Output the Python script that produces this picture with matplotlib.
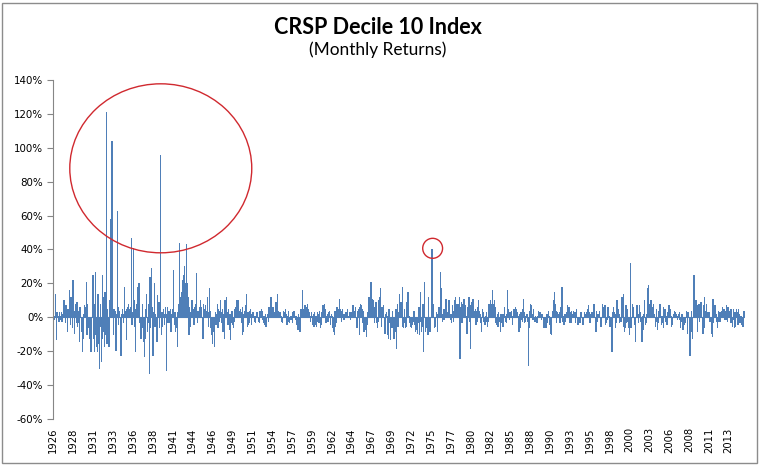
import numpy as np
import matplotlib
matplotlib.use("Agg")
import matplotlib.pyplot as plt
from matplotlib.patches import Ellipse, Rectangle
from matplotlib.ticker import FuncFormatter, MultipleLocator

# Monthly returns (%) of CRSP Decile 10, Jan 1926 - Dec 2015, one row per year
r1920s = [
    [2, -1, 1, 14, -13, 3, 2, 1, -2, 3, 1, -1],
    [3, -2, 2, 1, 10, 4, -3, 7, 2, -8, 5, 3],
    [3, 16, -4, 12, 2, -6, 22, 5, -9, 4, 8, -3],
    [9, -5, -3, 4, -14, 6, 3, -2, -8, -20, -12, 2],
]
r1930s = [
    [7, 4, 6, 21, -10, 8, -6, -4, -12, -8, -20, -5],
    [10, 25, -12, -20, 8, 27, -10, -17, -20, 14, -15, -30],
    [-5, 8, -26, -12, 25, -8, 12, -17, 15, -10, 121, -15],
    [5, -15, -17, 10, 6, 58, 15, 104, 37, -10, 5, 3],
    [4, -19, 2, 63, 6, -4, 3, 4, -6, -22, 2, 5],
    [2, -3, 18, 4, 3, -13, 5, 3, 6, 8, 5, 4],
    [6, 47, -4, 3, 41, 10, -5, -20, 5, 8, 3, 18],
    [6, 20, -3, -10, -12, -8, 8, -6, -14, -5, -23, -12],
    [5, 14, -8, -3, 8, -33, 24, -6, 29, 6, -12, -22],
    [3, 20, -5, 2, -7, -14, 13, 4, 9, -6, 3, 96],
]
r1940s = [
    [-10, 3, -5, 5, 2, -4, 6, 2, -31, 6, -3, 4],
    [4, -3, 5, -8, 2, 3, 5, 28, -4, 3, -8, -5],
    [-6, -17, 3, 8, 44, 5, 12, 10, 15, 22, 18, 25],
    [30, 13, 20, 43, 20, 8, 12, -10, 6, -5, 3, 10],
    [10, 3, 5, -4, 6, 2, 8, 26, -3, 4, 2, 6],
    [4, 10, 6, 3, -4, -12, 8, 5, 3, 7, 4, 2],
    [12, -5, 3, 17, 4, -6, -4, -10, -15, -8, -6, -17],
    [3, -4, 2, 8, -6, 5, 4, -2, 10, 3, -3, 5],
    [-8, 2, -12, 10, 8, 6, 12, 3, -4, 5, -7, 2],
    [-13, -3, 4, -4, -6, -2, 5, 3, 6, 5, 10, 8],
]
r1950s = [
    [10, 4, 2, 5, 3, -3, -10, 6, -8, 2, 4, 7],
    [3, 14, -5, 3, -4, -3, 4, 5, 2, -4, 1, 3],
    [3, -2, 1, -3, 2, 3, 1, -1, -2, -3, 4, 2],
    [5, 4, -1, -3, 1, -4, 2, -5, -4, 2, 1, -2],
    [6, 2, 3, 12, 4, 1, 6, 2, 3, 1, 7, 9],
    [5, 14, 2, 4, 1, 3, 2, 1, -2, -3, 4, 2],
    [2, 3, 5, 2, -4, 1, 4, -2, -3, 1, -1, 1],
    [3, -3, 2, 4, 1, -1, 1, -4, -5, -7, 2, -4],
    [-8, 3, 5, 4, 16, 3, 5, 6, 7, 4, 5, 6],
    [8, 5, 2, 3, 1, -2, 3, 1, -4, 2, -5, 3],
]
r1960s = [
    [-4, 1, -5, -2, 3, 2, -3, 4, -6, -4, 3, 2],
    [7, 5, 8, 5, 3, -3, 1, 2, -2, 3, 4, 1],
    [-4, 2, 1, -6, -8, -7, -10, 4, -5, -3, 6, 3],
    [5, 3, 11, 5, 4, -2, 1, 5, -1, 2, -1, 1],
    [3, 2, 5, 1, 1, 2, 3, -1, 3, 2, 1, 7],
    [5, 4, 3, 6, -2, -6, 4, 5, 4, -10, 6, 8],
    [7, 5, -3, 4, -8, -2, -1, -7, -11, -4, 3, 2],
    [12, 8, 10, 21, 3, 11, 10, 4, 6, -3, 2, 9],
    [-3, -6, -2, 10, 12, 3, 17, -5, 6, 3, 7, 2],
    [-3, -9, 2, 3, 1, -10, -12, 5, -3, -13, -5, -4],
]
r1970s = [
    [-6, 4, -3, -12, -10, -8, 5, -18, 8, -5, 3, 14],
    [8, 6, 9, 4, 18, -5, -6, 5, -3, -6, -5, 9],
    [6, 15, 2, 1, -3, -5, -6, -2, -4, -2, 4, -4],
    [-6, -8, -4, -7, -9, -3, 6, -10, 15, -2, -8, -5],
    [8, -20, 4, 21, -8, -5, -6, -9, -10, 12, -7, -8],
    [-8, 6, 40, 10, 8, 5, -6, -4, -5, 3, 2, -8],
    [4, 6, 2, 27, 3, 17, 2, -2, 5, -1, 5, 6],
    [11, 2, 3, 1, 4, 10, 3, -1, 2, -3, 7, 4],
    [-2, 10, 5, 12, 8, 3, 5, 8, 3, 12, -24, 6],
    [9, -3, 8, 2, 11, 5, 4, 7, 1, -9, 6, 5],
]
r1980s = [
    [12, -2, -18, 7, 9, 5, 11, 6, 4, 3, 5, -4],
    [4, -2, 6, 10, 4, 2, -3, -6, -8, 5, 3, -2],
    [-3, -4, 1, 3, -2, -5, -2, 8, 4, 10, 7, 5],
    [8, 16, 5, 8, 10, 6, -3, -4, 2, -5, 3, -1],
    [-2, -8, 2, -3, -5, 2, -5, 6, 1, -2, -3, 2],
    [16, 5, 2, -1, 3, 2, 4, 1, -4, 3, 5, 4],
    [4, 6, 5, 2, 3, 1, -8, 2, -6, 3, -1, -2],
    [5, 11, 3, -3, -2, 1, 2, 2, -2, -28, -6, 4],
    [8, 7, 5, 2, -1, 5, -1, -2, 1, -2, -3, 1],
    [4, 2, 2, 3, 3, -1, 2, 2, -1, -6, -2, -3],
]
r1990s = [
    [-6, 2, 2, -3, 4, 1, -4, -9, -6, -10, 4, 3],
    [10, 15, 8, 3, 4, -3, 3, 2, 1, 3, -3, 6],
    [9, 18, -2, -4, 1, -4, 2, -2, 1, 3, 7, 6],
    [6, -3, 3, -3, 4, 1, 2, 4, 3, 3, -3, 3],
    [5, -1, -4, -2, -1, -3, 1, 3, 1, -1, -4, -2],
    [3, 2, 2, 3, 2, 5, 7, 5, 3, -3, 2, 3],
    [1, 3, 4, 8, 7, -5, -8, 4, 2, -2, 1, 2],
    [4, -2, -5, -4, 8, 6, 5, 4, 7, -4, -3, -2],
    [-1, 6, 4, 1, -5, -3, -7, -20, 3, 2, 6, 3],
    [2, -6, -3, 10, 3, 5, 2, -3, -1, -2, 9, 12],
]
r2000s = [
    [5, 14, -5, -8, -6, 7, -3, 5, -2, -6, -10, 0],
    [32, -6, -5, 8, 6, 2, -3, -4, -14, 5, 7, 6],
    [2, -3, 7, 3, -2, -6, -14, 1, -7, 2, 10, -4],
    [-2, -3, 2, 17, 19, 8, 6, 10, 3, 10, 6, 2],
    [8, 2, 1, -5, -2, 5, -7, -3, 4, 2, 8, 3],
    [-4, 1, -3, -6, 6, 4, 5, -2, 1, -4, 3, 1],
    [7, 1, 5, 1, -5, -2, -4, 2, 1, 4, 3, 1],
    [2, -1, 1, 2, 3, -1, -6, -2, 2, 2, -7, -2],
    [-4, -3, -2, 4, 3, -9, 3, 2, -6, -22, -15, 4],
    [-8, -12, 7, 25, 5, 3, 10, 6, 7, -8, 2, 8],
]
r2010s = [
    [-2, 5, 9, 6, -8, -9, 7, -6, 12, 4, 4, 8],
    [1, 3, 2, 3, -2, -2, -4, -9, -11, 11, -3, 1],
    [7, 3, 2, -2, -6, 4, -2, 3, 3, -2, 1, 4],
    [6, 1, 5, -1, 4, -1, 7, -2, 6, 2, 4, 2],
    [-3, 5, -3, -5, -1, 5, -6, 3, -5, 5, 1, 3],
    [-4, 5, 2, -3, 1, 1, -4, -5, -5, 4, 2, -5],
]

tick_labels = ["1926", "1928", "1931", "1933", "1936", "1938", "1941", "1944",
               "1946", "1949", "1951", "1954", "1957", "1959", "1962", "1964",
               "1967", "1969", "1972", "1975", "1977", "1980", "1982", "1985",
               "1988", "1990", "1993", "1995", "1998", "2000", "2003", "2006",
               "2008", "2011", "2013"]
tick_step = 31  # months between category labels

title = "CRSP Decile 10 Index"
subtitle = "(Monthly Returns)"

# ---------------------------------------------------------------
decades = [r1920s, r1930s, r1940s, r1950s, r1960s, r1970s, r1980s, r1990s, r2000s, r2010s]
returns = np.array([v for dec in decades for yr in dec for v in yr], dtype=float) / 100.0
n = len(returns)
x = np.arange(n)

W, H = 759, 466
fig = plt.figure(figsize=(W / 100, H / 100), dpi=100)
fig.patch.set_facecolor("white")

# chart area border
fig.add_artist(Rectangle((1.5 / W, 3.5 / H), (W - 4) / W, (H - 6) / H,
                         transform=fig.transFigure, fill=False,
                         edgecolor="#8c8c8c", linewidth=1.0))

ax = fig.add_axes([53 / W, 1 - 419 / H, (745 - 53) / W, (419 - 80) / H])
ax.axhline(0, color="#868686", linewidth=0.8, zorder=1)
ax.bar(x, returns, width=0.5, color="#4f7fb8", edgecolor="#4f7fb8",
       linewidth=0.6, antialiased=False, zorder=2)

ax.set_xlim(-0.5, n - 0.5)
ax.set_ylim(-0.6, 1.4)
ax.yaxis.set_major_locator(MultipleLocator(0.2))
ax.yaxis.set_major_formatter(FuncFormatter(lambda v, p: f"{v * 100:.0f}%"))

ticks = np.arange(0, n, tick_step)[:len(tick_labels)]
ax.set_xticks(ticks)
ax.set_xticklabels(tick_labels, rotation=90, fontsize=7.2, color="#000000")
ax.tick_params(axis="x", length=0, pad=6)
ax.tick_params(axis="y", length=4, width=0.8, color="#868686", pad=3,
               labelsize=7.4, labelcolor="#000000")

for s in ["top", "right", "bottom"]:
    ax.spines[s].set_visible(False)
ax.spines["left"].set_color("#868686")
ax.spines["left"].set_linewidth(0.8)

# red highlight circles
ax.add_patch(Ellipse((167.7, 0.879), 284, 0.997, fill=False,
                     edgecolor="#d0292f", linewidth=1.0, zorder=3))
ax.add_patch(Ellipse((592, 0.407), 31, 0.118, fill=False,
                     edgecolor="#d0292f", linewidth=1.0, zorder=3))

fig.text(378 / W, 1 - 27 / H, title, ha="center", va="center",
         fontsize=15.5, fontweight="bold", family="Lato")
fig.text(378 / W, 1 - 50 / H, subtitle, ha="center", va="center",
         fontsize=12.4, family="Lato")

fig.savefig("out.png", dpi=100, facecolor="white")
